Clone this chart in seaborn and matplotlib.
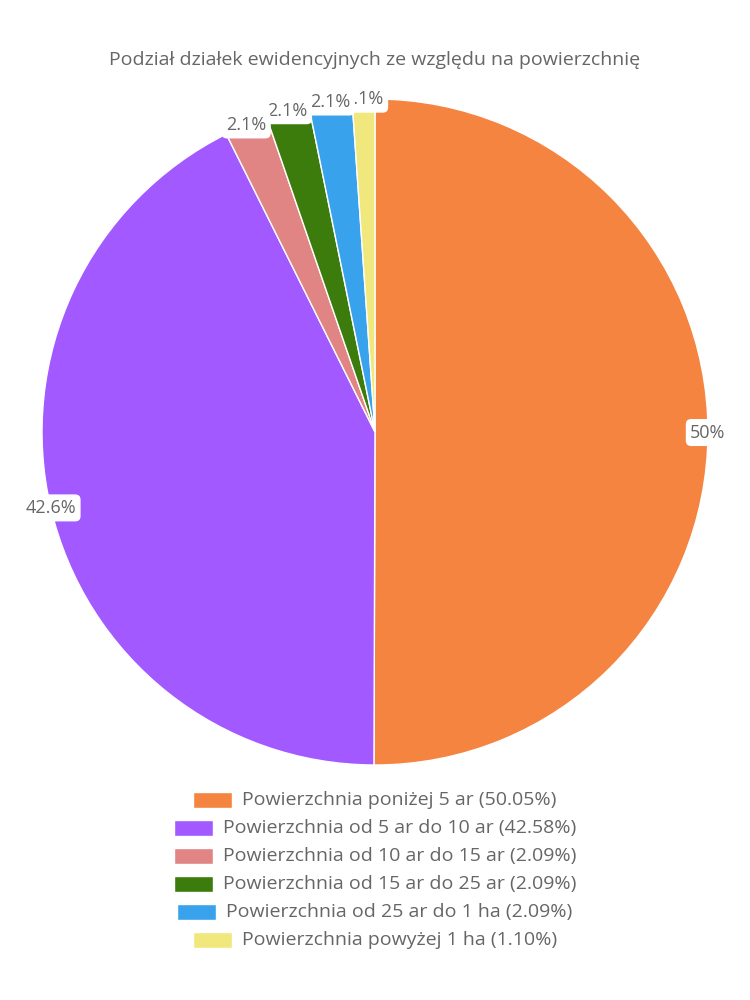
import numpy as np
import matplotlib
matplotlib.use("Agg")
import matplotlib.pyplot as plt
from matplotlib.patches import Rectangle
import seaborn as sns

title = "Podział działek ewidencyjnych ze względu na powierzchnię"
categories = [
    "Powierzchnia poniżej 5 ar",
    "Powierzchnia od 5 ar do 10 ar",
    "Powierzchnia od 10 ar do 15 ar",
    "Powierzchnia od 15 ar do 25 ar",
    "Powierzchnia od 25 ar do 1 ha",
    "Powierzchnia powyżej 1 ha",
]
values = [50.05, 42.58, 2.09, 2.09, 2.09, 1.10]
colors = ["#f4843f", "#a259ff", "#e08484", "#3c7c0c", "#38a3ec", "#f0e87c"]

sns.set_theme(style="white")
plt.rcParams['font.family'] = ['Open Sans', 'DejaVu Sans']
TXT = "#666666"

fig = plt.figure(figsize=(7.5, 10), dpi=100)
W, H = 750, 1000
cx, cy, r = 375, 432, 333
ax = fig.add_axes([(cx - r) / W, 1 - (cy + r) / H, 2 * r / W, 2 * r / H])
wedges, _ = ax.pie(values, colors=colors, startangle=90, counterclock=False,
                   wedgeprops=dict(edgecolor="white", linewidth=1))
ax.set_xlim(-1, 1)
ax.set_ylim(-1, 1)
ax.set_aspect("equal")
ax.axis("off")

for i, (w, v) in enumerate(zip(wedges, values)):
    th = np.deg2rad((w.theta1 + w.theta2) / 2)
    lab = f"{round(v, 1):g}%"
    ax.text(np.cos(th), np.sin(th), lab, ha="center", va="center", fontsize=13,
            color=TXT, zorder=10 - i, clip_on=False,
            bbox=dict(boxstyle="round,pad=0.25,rounding_size=0.3", fc="white", ec="none"))

fig.text(0.5, 1 - 60 / H, title, ha="center", va="center", fontsize=14, color=TXT)

# legend: each row centered
fig.canvas.draw()
renderer = fig.canvas.get_renderer()
box_w, box_h, gap = 39, 16, 10
row_y0, row_dy = 800, 28
for i, (c, v, col) in enumerate(zip(categories, values, colors)):
    y = row_y0 + i * row_dy
    t = fig.text(0, 1 - y / H, f"{c} ({v:.2f}%)", ha="left", va="center",
                 fontsize=14, color=TXT)
    tw = t.get_window_extent(renderer).width
    total = box_w + gap + tw
    x0 = W / 2 - total / 2
    t.set_x((x0 + box_w + gap) / W)
    fig.patches.append(Rectangle((x0 / W, 1 - (y + box_h / 2) / H), box_w / W, box_h / H,
                                 transform=fig.transFigure, facecolor=col,
                                 edgecolor="white", linewidth=1))

fig.savefig("out.png", dpi=100)
